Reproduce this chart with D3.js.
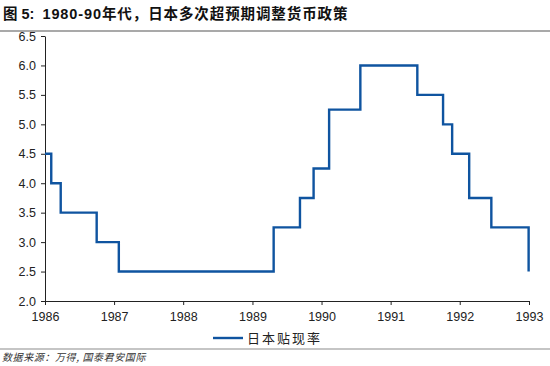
<!DOCTYPE html>
<html>
<head>
<meta charset="utf-8">
<script src="https://cdn.jsdelivr.net/npm/d3@7"></script>
<style>
  body { margin: 0; background: #fff; }
  svg { display: block; font-family: "Liberation Sans", Arial, sans-serif; }
</style>
</head>
<body>
<script>
// discount rate changes (date of step, new level)
const dates = ['1986-01-01', '1986-02-03', '1986-03-25', '1986-10-01', '1987-01-26',
  '1989-04-23', '1989-09-09', '1989-11-20', '1990-02-10', '1990-07-25',
  '1991-05-22', '1991-10-05', '1991-11-22', '1992-02-20', '1992-06-16', '1992-12-30']
const rates = [4.5, 4.0, 3.5, 3.0, 2.5, 3.25, 3.75, 4.25, 5.25, 6.0, 5.5, 5.0, 4.5, 3.75, 3.25, 2.5]
const yearTicks = [1986, 1987, 1988, 1989, 1990, 1991, 1992, 1993]
const rateTicks = [2.0, 2.5, 3.0, 3.5, 4.0, 4.5, 5.0, 5.5, 6.0, 6.5]

const W = 550, H = 366

const svg = d3.select('body').append('svg')
  .attr('width', W)
  .attr('height', H)

// title + rule
const title = svg.append('text')
  .attr('x', 3).attr('y', 19)
  .attr('font-size', 14.5)
  .attr('font-weight', 'bold')
  .attr('fill', '#111')
  .style('font-family', '"Liberation Sans", "Noto Sans CJK SC", sans-serif')
title.append('tspan').text('图 5:')
title.append('tspan').attr('dx', 8).attr('letter-spacing', 0.9)
  .text('1980-90年代，日本多次超预期调整货币政策')

svg.append('line')
  .attr('x1', 0).attr('x2', W)
  .attr('y1', 31).attr('y2', 31)
  .attr('stroke', '#8c8c8c').attr('stroke-width', 1.5)

const x = d3.scaleTime()
  .domain([new Date(1986, 0, 1), new Date(1993, 0, 1)])
  .range([45, 529])

const y = d3.scaleLinear()
  .domain([2.0, 6.5])
  .range([301, 36])

const data = dates.map((d, i) => ({ date: d3.timeParse('%Y-%m-%d')(d), rate: rates[i] }))

const xAxis = svg.append('g')
  .attr('transform', `translate(0,${y(2.0)})`)
  .call(d3.axisBottom(x)
    .tickValues(yearTicks.map(yr => new Date(yr, 0, 1)))
    .tickFormat(d3.timeFormat('%Y'))
    .tickSize(4)
    .tickSizeOuter(0))

const yAxis = svg.append('g')
  .attr('transform', `translate(${x.range()[0]},0)`)
  .call(d3.axisLeft(y)
    .tickValues(rateTicks)
    .tickFormat(d3.format('.1f'))
    .tickSize(4)
    .tickSizeOuter(0))

;[xAxis, yAxis].forEach(ax => {
  ax.select('.domain').attr('stroke', '#222')
  ax.selectAll('.tick line').attr('stroke', '#222')
  ax.selectAll('.tick text')
    .attr('font-size', 12.5)
    .attr('fill', '#222')
})
xAxis.selectAll('.tick text').attr('dy', '1.05em')
yAxis.selectAll('.tick text').attr('x', -9)

const line = d3.line()
  .x(d => x(d.date))
  .y(d => y(d.rate))
  .curve(d3.curveStepAfter)

svg.append('path')
  .datum(data)
  .attr('d', line)
  .attr('fill', 'none')
  .attr('stroke', '#0f54a0')
  .attr('stroke-width', 2.4)

// legend
const legend = svg.append('g').attr('transform', 'translate(213,338)')
legend.append('line')
  .attr('x1', 0).attr('x2', 30)
  .attr('stroke', '#0f54a0').attr('stroke-width', 2.4)
legend.append('text')
  .attr('x', 34).attr('y', 5)
  .attr('font-size', 13)
  .attr('letter-spacing', 2)
  .attr('fill', '#222')
  .style('font-family', '"Noto Sans CJK SC", sans-serif')
  .text('日本贴现率')

// source
svg.append('line')
  .attr('x1', 0).attr('x2', W)
  .attr('y1', 349).attr('y2', 349)
  .attr('stroke', '#8c8c8c').attr('stroke-width', 1.2)

svg.append('text')
  .attr('x', 2).attr('y', 361)
  .attr('font-size', 10)
  .attr('font-style', 'italic')
  .attr('letter-spacing', 0.6)
  .attr('fill', '#333')
  .style('font-family', '"Noto Sans CJK SC", sans-serif')
  .text('数据来源：万得, 国泰君安国际')
</script>
</body>
</html>
